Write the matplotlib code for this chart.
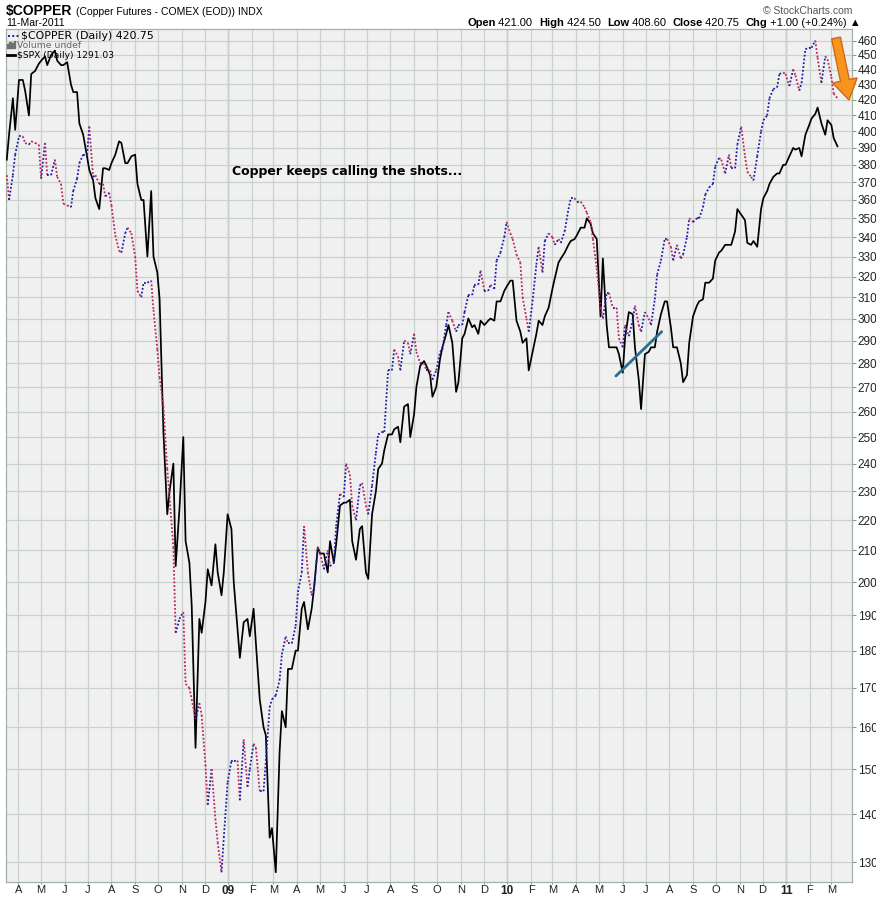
import matplotlib
matplotlib.use('Agg')
import matplotlib.pyplot as plt
import matplotlib.dates as mdates
from matplotlib.collections import LineCollection
from matplotlib.lines import Line2D
from matplotlib.patches import FancyArrow, Rectangle
from matplotlib.ticker import FixedLocator, NullLocator
import numpy as np
import pandas as pd

W, H = 876, 897

# Copper close, every third trading day from 17-Mar-2008 (cents/lb)
copper = [
    374, 360, 374, 386, 397, 397, 393, 392, 394, 393, 392, 372, 393, 374, 374, 383, 373, 369,
    358, 357, 356, 365, 372, 381, 386, 386, 403, 373, 374, 369, 369, 362, 364, 357, 341, 333,
    332, 342, 345, 342, 330, 313, 310, 317, 317, 318, 304, 286, 274, 262, 238, 228, 211, 185,
    189, 191, 171, 170, 167, 162, 166, 163, 151, 142, 150, 139, 134, 128, 135, 147, 152, 152,
    152, 143, 157, 146, 150, 156, 155, 145, 145, 152, 165, 167, 168, 172, 179, 184, 182, 182,
    187, 197, 203, 218, 203, 196, 198, 211, 209, 204, 210, 205, 206, 218, 229, 228, 240,
    236, 225, 220, 232, 233, 225, 222, 232, 244, 251, 252, 252, 277, 277, 286, 283, 277, 290,
    289, 284, 293, 285, 280, 280, 277, 277, 273, 277, 285, 286, 297, 303, 299, 294, 297, 297,
    303, 311, 311, 316, 316, 323, 313, 313, 316, 314, 328, 332, 340, 348, 342, 339, 331,
    327, 310, 300, 294, 308, 326, 335, 322, 338, 342, 340, 336, 339, 337, 343, 355, 361, 361,
    359, 359, 356, 353, 348, 339, 324, 305, 300, 312, 312, 305, 305, 291, 287, 297, 292, 299,
    306, 297, 294, 303, 300, 297, 309, 321, 328, 339, 339, 335, 328, 336, 329, 331, 340,
    350, 348, 350, 350, 356, 363, 367, 369, 379, 384, 383, 375, 386, 378, 378, 392, 403, 385,
    376, 373, 371, 385, 400, 407, 410, 421, 427, 428, 437, 438, 437, 429, 440, 436, 426, 431,
    454, 455, 455, 460, 448, 431, 449, 447, 435, 424, 421,
]

# $SPX overlay, same dates in copper-axis units
spx = [
    383, 398, 421, 401, 433, 433, 426, 410, 437, 439, 444, 446, 449, 443, 450, 453, 446, 443,
    443, 445, 430, 425, 425, 405, 398, 385, 377, 371, 361, 355, 378, 378, 377, 381, 386, 394,
    393, 381, 381, 385, 386, 369, 360, 360, 330, 365, 330, 322, 309, 252, 222, 230, 240, 205,
    224, 250, 213, 206, 193, 155, 189, 185, 194, 204, 199, 212, 203, 196, 203, 222, 217, 200,
    186, 178, 188, 189, 184, 192, 182, 167, 160, 158, 135, 137, 128, 154, 164, 160, 175, 175,
    180, 180, 192, 194, 186, 192, 198, 211, 209, 209, 203, 213, 206, 212, 225, 226, 226,
    227, 213, 207, 217, 218, 203, 201, 222, 230, 238, 240, 245, 251, 251, 253, 254, 248, 262,
    263, 250, 259, 270, 279, 281, 279, 275, 266, 270, 282, 287, 293, 297, 289, 268, 272, 291,
    293, 300, 296, 297, 293, 299, 297, 299, 300, 299, 308, 308, 313, 315, 318, 318, 299,
    294, 289, 291, 277, 285, 293, 299, 297, 301, 305, 314, 319, 327, 329, 332, 336, 338, 339,
    341, 345, 345, 350, 347, 342, 339, 301, 329, 297, 287, 287, 287, 284, 276, 291, 303, 302,
    287, 273, 261, 284, 285, 287, 287, 294, 302, 308, 308, 296, 287, 287, 280, 272, 275,
    289, 301, 306, 308, 309, 317, 317, 319, 328, 332, 333, 336, 336, 336, 343, 355, 352, 349,
    337, 336, 338, 335, 355, 361, 365, 369, 373, 375, 375, 380, 380, 385, 390, 389, 390, 385,
    398, 404, 408, 411, 415, 405, 398, 407, 404, 396, 391,
]

dates = pd.bdate_range('2008-03-17', '2011-03-11')[::3][:len(copper)]

trend_dates = ['2010-05-23', '2010-07-22']
trend_values = [274.6, 294.0]

month_starts = pd.date_range('2008-04-01', '2011-03-01', freq='MS')
month_labels = [d.strftime('%y') if d.month == 1 else d.strftime('%b')[0] for d in month_starts]
year_starts = [d for d in month_starts if d.month == 1]
ytick_values = list(range(130, 461, 10))

plt.rcParams['font.family'] = ['Liberation Sans', 'DejaVu Sans']

UP = '#1c1ca8'
DOWN = '#b8265e'
GRID = '#c9d3c9'


def fx(px):
    return px / W


def fy(py):
    return 1 - py / H


fig = plt.figure(figsize=(W / 100, H / 100), dpi=100)
fig.patch.set_facecolor('white')
ax = fig.add_axes([fx(6), fy(882), fx(852) - fx(6), fy(29) - fy(882)])
ax.set_facecolor('#f0f0f0')
ax.set_yscale('log')
ax.set_ylim(126.1, 468.3)
ax.set_xlim(mdates.date2num(pd.Timestamp('2008-03-16')), mdates.date2num(pd.Timestamp('2011-03-28')))

# grid
ax.yaxis.set_major_locator(FixedLocator(ytick_values))
ax.yaxis.set_minor_locator(NullLocator())
ax.set_yticklabels([str(v) for v in ytick_values])
ax.set_xticks(mdates.date2num(month_starts))
ax.set_xticklabels(month_labels)
ax.grid(True, color=GRID, lw=0.9, zorder=0)
for d in year_starts:
    ax.axvline(mdates.date2num(d), color='#9fb09f', lw=1.0, zorder=0.5)
ax.set_axisbelow(True)

ax.yaxis.tick_right()
ax.tick_params(axis='y', length=3, width=0.8, color='#8a9a8a', pad=1, labelsize=8.5, labelcolor='#222222')
ax.tick_params(axis='x', length=1.5, width=0.8, color='#8a9a8a', pad=1, labelsize=8, labelcolor='#222222')
for lbl, text in zip(ax.get_xticklabels(), month_labels):
    if text.isdigit():
        lbl.set_fontweight('bold')
        lbl.set_fontsize(8.5)
for s in ax.spines.values():
    s.set_color('#a3b3a3')
    s.set_linewidth(0.9)

# series
xnum = mdates.date2num(dates)
ax.plot(xnum, spx, color='black', lw=1.25, zorder=3)
pts = np.column_stack([xnum, copper])
segs = np.stack([pts[:-1], pts[1:]], axis=1)
cols = [UP if b >= a else DOWN for a, b in zip(copper[:-1], copper[1:])]
ax.add_collection(LineCollection(segs, colors=cols, linewidths=1.3,
                                 linestyles=[(0, (1, 1.1))], zorder=4))

# trend line
ax.plot(mdates.date2num(pd.to_datetime(trend_dates)), trend_values, color='#2a6e92', lw=2.0,
        solid_capstyle='round', zorder=5)

# header
renderer = fig.canvas.get_renderer()
title = fig.text(fx(6), fy(15), '$COPPER', fontsize=10, fontweight='bold', va='baseline', ha='left')
tx = title.get_window_extent(renderer).x1 + 4
fig.text(tx / W, fy(15), '(Copper Futures - COMEX (EOD)) INDX', fontsize=7.5, va='baseline', ha='left')
fig.text(fx(6), fy(26), '11-Mar-2011', fontsize=7.5, va='baseline', ha='left')
fig.text(fx(852), fy(14), '\u00a9 StockCharts.com', fontsize=7.5, color='#555555', va='baseline', ha='right')

pieces = [('Open', True), (' 421.00  ', False), ('High', True), (' 424.50  ', False),
          ('Low', True), (' 408.60  ', False), ('Close', True), (' 420.75  ', False),
          ('Chg', True), (' +1.00 (+0.24%) \u25b2', False)]
xpos = fx(467)
for txt, bold in pieces:
    t = fig.text(xpos, fy(26), txt, fontsize=8, fontweight='bold' if bold else 'normal',
                 va='baseline', ha='left')
    xpos = t.get_window_extent(renderer).x1 / W

# legend inside the plot
fig.add_artist(Line2D([fx(8), fx(19)], [fy(36), fy(36)], color=UP, lw=1.4, ls=(0, (1, 1.2))))
fig.text(fx(21), fy(36), '$COPPER (Daily) 420.75', fontsize=7.9, family='DejaVu Sans', va='center')
for i, hgt in enumerate([4, 6, 5, 7]):
    fig.add_artist(Rectangle((fx(7 + i * 2.2), fy(48)), 1.5 / W, hgt / H, color='#707070'))
fig.text(fx(17), fy(45), 'Volume undef', fontsize=6.7, family='DejaVu Sans', color='#666666', va='center')
fig.add_artist(Line2D([fx(7), fx(15)], [fy(55), fy(55)], color='black', lw=2))
fig.text(fx(17), fy(55), '$SPX (Daily) 1291.03', fontsize=6.6, family='DejaVu Sans', va='center')

# annotation
fig.text(fx(232), fy(172), 'Copper keeps calling the shots...', fontsize=9, fontweight='bold',
         family='DejaVu Sans', va='center', ha='left')

# orange arrow (in inches from the bottom-left)
arrow = FancyArrow(836 / 100, (H - 38) / 100, 13 / 100, -62 / 100, width=0.09, head_width=0.25,
                   head_length=0.2, length_includes_head=True, facecolor='#f7941d',
                   edgecolor='#cc6a1a', lw=1.0, transform=fig.dpi_scale_trans, zorder=10)
fig.add_artist(arrow)

fig.savefig('out.png', dpi=100, facecolor='white')
